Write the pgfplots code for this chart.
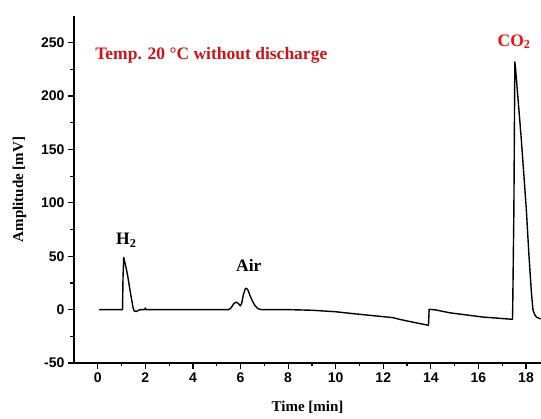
\documentclass[border=0pt]{standalone}
\usepackage{fontspec}
\setmainfont{Liberation Serif}
\newfontfamily\arialf{Liberation Sans}
\usepackage{pgfplots}
\pgfplotsset{compat=1.18}
\definecolor{tempred}{RGB}{205,20,25}
\definecolor{cored}{RGB}{250,10,10}
\begin{document}
\begin{tikzpicture}
\begin{axis}[
  scale only axis, width=467pt, height=347pt,
  xmin=-1, xmax=18.63, ymin=-50, ymax=275,
  axis x line*=bottom, axis y line*=left,
  axis line style={line width=1.3pt},
  tick align=outside,
  major tick length=6pt, minor tick length=3.5pt,
  every tick/.style={line width=1.2pt, black},
  xtick={0,2,...,18}, ytick={-50,0,...,250},
  minor x tick num=1, minor y tick num=1,
  tick label style={font=\arialf\bfseries\fontsize{14}{16}\selectfont},
  /pgf/number format/assume math mode=true,
  xlabel={\bfseries Time [min]},
  ylabel={\bfseries Amplitude [mV]},
  label style={font=\bfseries\fontsize{15}{17}\selectfont},
  xlabel style={yshift=-12pt},
  ylabel style={yshift=8pt},
  clip=false,
]
\addplot[black, line width=1.4pt, line join=round] coordinates {
(0.05,0) (1.04,0) (1.06,30) (1.09,49) (1.13,45) (1.2,38) (1.27,30) (1.34,20)
(1.41,11) (1.48,2) (1.53,-1.2) (1.62,-1.8) (1.72,-0.5) (1.8,0) (1.97,0) (2.0,1.5)
(2.03,0) (5.5,0) (5.6,1.5) (5.7,5) (5.8,7) (5.9,6) (5.99,3.5) (6.05,6) (6.12,14)
(6.2,19.5) (6.25,20) (6.32,18) (6.4,13) (6.5,8) (6.6,4) (6.7,1.5) (6.8,0.3) (6.9,0)
(8,0) (9,-0.6) (10,-2) (10.7,-3.7) (11.5,-5.5) (12.4,-7.5) (12.7,-9.2) (13.3,-12)
(13.9,-14.7) (13.93,0.3) (14.2,-0.3) (14.8,-3) (16.2,-7) (17.38,-9) (17.43,-9)
(17.44,0) (17.49,93) (17.53,232) (17.56,226) (17.8,160) (18.01,95) (18.12,52) (18.22,18)
(18.29,0) (18.36,-4.5) (18.44,-7) (18.61,-8.8)
};
\node[anchor=west, text=tempred, font=\bfseries\fontsize{17.5}{19}\selectfont] at (axis cs:-0.25,238) {Temp. 20 °C without discharge};
\node[text=cored, font=\bfseries\fontsize{17.5}{19}\selectfont] at (axis cs:17.5,251) {CO\textsubscript{2}};
\node[font=\bfseries\fontsize{17.5}{19}\selectfont] at (axis cs:1.2,65) {H\textsubscript{2}};
\node[font=\bfseries\fontsize{17.5}{19}\selectfont] at (axis cs:6.35,41) {Air};
\end{axis}
\pgfresetboundingbox
\path[use as bounding box] (-74pt,-56pt) rectangle (467pt,363pt);
\end{tikzpicture}
\end{document}
